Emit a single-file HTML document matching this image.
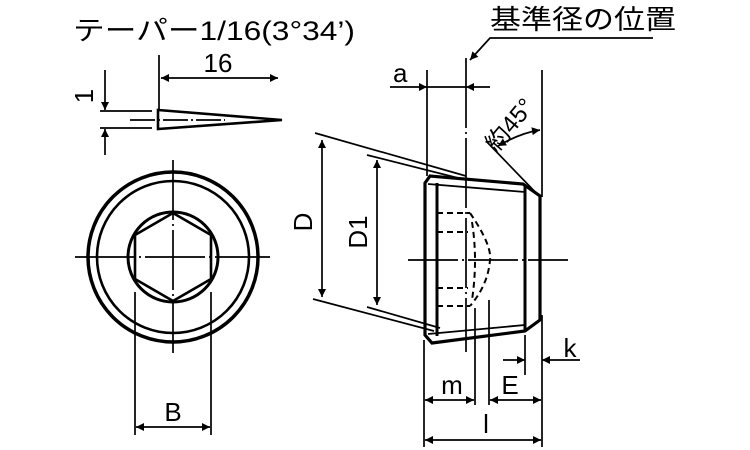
<!DOCTYPE html>
<html><head><meta charset="utf-8"><style>
html,body{margin:0;padding:0;background:#fff;}
svg{display:block;}
text{font-family:"Liberation Sans","Noto Sans CJK JP",sans-serif;fill:#000;}
</style></head><body>
<svg width="750" height="450" viewBox="0 0 750 450" xmlns="http://www.w3.org/2000/svg">
<defs>
<marker id="ar" viewBox="0 0 10 10" refX="10" refY="5" markerWidth="10" markerHeight="8" orient="auto-start-reverse" markerUnits="userSpaceOnUse"><path d="M0,0 L10,5 L0,10 z" fill="#000"/></marker>
</defs>
<g stroke="#000" fill="none" stroke-width="1.7">
<line x1="159" y1="55" x2="159" y2="110"/>
<line x1="161" y1="78" x2="278" y2="78" marker-start="url(#ar)" marker-end="url(#ar)"/>
<path d="M158,110 L158,129 L282,120 Z" stroke-width="2.6"/>
<line x1="100" y1="111" x2="152" y2="111"/>
<line x1="100" y1="128" x2="152" y2="128"/>
<line x1="130" y1="120" x2="225" y2="120" stroke-dasharray="25,3,2,3"/>
<line x1="105" y1="70" x2="105" y2="110" marker-end="url(#ar)"/>
<line x1="105" y1="155" x2="105" y2="129" marker-end="url(#ar)"/>
<circle cx="173" cy="257" r="85" stroke-width="3.5"/>
<circle cx="173" cy="257" r="76" stroke-width="2.6"/>
<circle cx="173" cy="257" r="45" stroke-width="3"/>
<polygon points="173,213 211,235 211,279 173,301 135,279 135,235" stroke-width="2.6"/>
<line x1="75" y1="257" x2="270" y2="257" stroke-dasharray="60,4,2,4"/>
<line x1="173" y1="160" x2="173" y2="353" stroke-dasharray="60,4,2,4"/>
<line x1="135" y1="292" x2="135" y2="435"/>
<line x1="211" y1="292" x2="211" y2="435"/>
<line x1="136" y1="427" x2="210" y2="427" marker-start="url(#ar)" marker-end="url(#ar)"/>
<path d="M425,183 L430,176 L523,184 L540,196 L540,320 L525,331 L432,343 L425,335 Z" stroke-width="3.2"/>
<line x1="437" y1="183" x2="437" y2="336" stroke-width="3"/>
<line x1="525" y1="186" x2="525" y2="330" stroke-width="3"/>
<line x1="428" y1="184" x2="525" y2="192" stroke-width="1.8"/>
<line x1="428" y1="334" x2="525" y2="325" stroke-width="1.8"/>
<g stroke-dasharray="6,4" stroke-width="2">
<line x1="437" y1="213" x2="470" y2="213"/>
<line x1="437" y1="232" x2="468" y2="232"/>
<line x1="437" y1="288" x2="468" y2="288"/>
<line x1="437" y1="306" x2="470" y2="306"/>
<path d="M470,213 Q492,245 490,260 Q488,285 470,306"/>
<path d="M472,222 Q478,260 472,300"/>
</g>
<line x1="408" y1="260" x2="568" y2="260" stroke-dasharray="50,4,2,4"/>
<line x1="466" y1="58" x2="466" y2="352" stroke-dasharray="70,4,2,4"/>
<line x1="315" y1="133" x2="466" y2="176"/>
<line x1="313" y1="299" x2="434" y2="331"/>
<line x1="322" y1="140" x2="322" y2="297" marker-start="url(#ar)" marker-end="url(#ar)"/>
<line x1="367" y1="155" x2="466" y2="180"/>
<line x1="367" y1="307" x2="440" y2="328"/>
<line x1="377" y1="160" x2="377" y2="305" marker-start="url(#ar)" marker-end="url(#ar)"/>
<line x1="427" y1="70" x2="427" y2="176"/>
<line x1="390" y1="87" x2="427" y2="87" marker-end="url(#ar)"/>
<line x1="427" y1="87" x2="466" y2="87"/>
<line x1="490" y1="87" x2="466" y2="87" marker-end="url(#ar)"/>
<line x1="542" y1="70" x2="542" y2="197"/>
<polyline points="653,38 490,38 470,60" marker-end="url(#ar)"/>
<line x1="487" y1="142" x2="540" y2="197"/>
<path d="M498,146 Q520,133 540,130" marker-start="url(#ar)" marker-end="url(#ar)"/>
<line x1="424" y1="340" x2="424" y2="447"/>
<line x1="475" y1="308" x2="475" y2="405"/>
<line x1="489" y1="300" x2="489" y2="405"/>
<line x1="542" y1="315" x2="542" y2="447"/>
<line x1="525" y1="335" x2="525" y2="375"/>
<line x1="425" y1="400" x2="474" y2="400" marker-start="url(#ar)" marker-end="url(#ar)"/>
<line x1="490" y1="400" x2="541" y2="400" marker-start="url(#ar)" marker-end="url(#ar)"/>
<line x1="425" y1="440" x2="541" y2="440" marker-start="url(#ar)" marker-end="url(#ar)"/>
<line x1="503" y1="360" x2="525" y2="360" marker-end="url(#ar)"/>
<line x1="580" y1="360" x2="542" y2="360" marker-end="url(#ar)"/>
</g>
<text x="73" y="40" font-size="27" textLength="282" lengthAdjust="spacingAndGlyphs">テーパー1/16(3°34’)</text>
<text x="218" y="72" font-size="26" text-anchor="middle">16</text>
<text x="490" y="29" font-size="27" textLength="186" lengthAdjust="spacingAndGlyphs">基準径の位置</text>
<g font-size="26">
<text x="393" y="82">a</text>
<text x="173" y="421" text-anchor="middle">B</text>
<text x="452" y="394" text-anchor="middle">m</text>
<text x="510" y="394" text-anchor="middle">E</text>
<text x="486" y="433" text-anchor="middle">l</text>
<text x="570" y="357" text-anchor="middle">k</text>
<text transform="translate(312,222) rotate(-90)" text-anchor="middle">D</text>
<text transform="translate(367,232) rotate(-90)" text-anchor="middle">D1</text>
<text transform="translate(93,96) rotate(-90)" text-anchor="middle">1</text>
<text transform="translate(516,130) rotate(-50)" text-anchor="middle" font-size="24">約45°</text>
</g>
</svg>
</body></html>
